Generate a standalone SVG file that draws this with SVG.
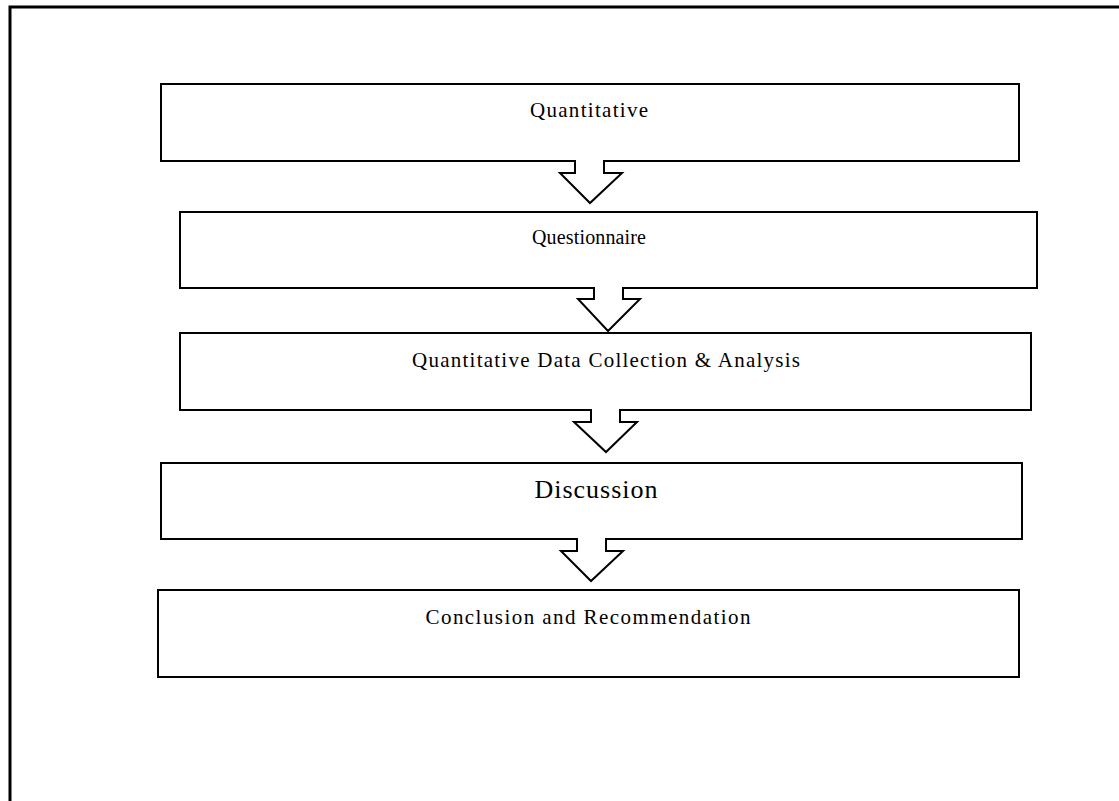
<svg xmlns="http://www.w3.org/2000/svg" width="1119" height="801" viewBox="0 0 1119 801">
<style>
.box{fill:#fff;stroke:#000;stroke-width:2}
.arr{fill:#fff;stroke:#000;stroke-width:2;stroke-linejoin:miter}
.t{font-family:"Liberation Serif","Times New Roman",serif;font-size:21px;fill:#000;text-anchor:middle}
.frame{fill:none;stroke:#000;stroke-width:3}
</style>
<rect width="1119" height="801" fill="#fff"/>
<path class="frame" d="M10,801 V7 H1119"/>
<g id="n1"><rect class="box" x="161" y="84" width="858" height="77"/><text class="t" x="589" y="117" textLength="118" lengthAdjust="spacing">Quantitative</text></g>
<g id="n2"><rect class="box" x="180" y="212" width="857" height="76"/><text class="t" x="589" y="244" style="font-size:20px" textLength="114" lengthAdjust="spacing">Questionnaire</text></g>
<g id="n3"><rect class="box" x="180" y="333" width="851" height="77"/><text class="t" x="606" y="367" textLength="388" lengthAdjust="spacing">Quantitative Data Collection &amp; Analysis</text></g>
<g id="n4"><rect class="box" x="161" y="463" width="861" height="76"/><text class="t" x="596" y="498" style="font-size:26px" textLength="123" lengthAdjust="spacing">Discussion</text></g>
<g id="n5"><rect class="box" x="158" y="590" width="861" height="87"/><text class="t" x="588" y="624" textLength="325" lengthAdjust="spacing">Conclusion and Recommendation</text></g>
<g id="connectors">
<polygon class="arr" points="575,161 575,173 560,173 590,203 622,173 604,173 604,161"/>
<polygon class="arr" points="594,288 594,299 578,299 608,331 640,299 623,299 623,288"/>
<polygon class="arr" points="591,410 591,422 574,422 606,452 637,422 620,422 620,410"/>
<polygon class="arr" points="577,539 577,551 561,551 591,581 623,551 606,551 606,539"/>
<path d="M576,161 H603 M595,288 H622 M592,410 H619 M578,539 H605" stroke="#fff" stroke-width="2.2" fill="none"/>
</g>
</svg>
